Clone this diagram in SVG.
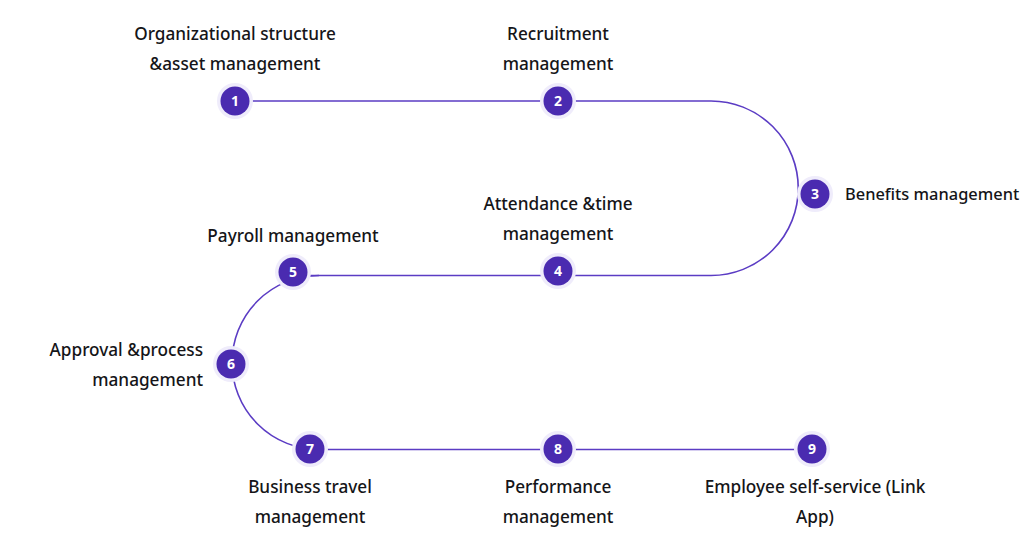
<svg xmlns="http://www.w3.org/2000/svg" width="1024" height="551" viewBox="0 0 1024 551">
<style>
.lbl{font-family:"Noto Sans","Liberation Sans",sans-serif;font-size:17.2px;font-weight:500;fill:#151518;}
.c{text-anchor:middle}
.r{text-anchor:end}
.halo{fill:#efecfb}
.dot{fill:#4a2bb0}
.num{font-family:"Noto Sans","Liberation Sans",sans-serif;font-size:14px;font-weight:bold;fill:#ffffff;text-anchor:middle}
.conn{fill:none;stroke:#5b3cc4;stroke-width:1.6}
</style>
<rect width="1024" height="551" fill="#ffffff"/>
<g id="connectors">
<path class="conn" d="M235 101 H711 A87 87 0 0 1 711 275.5 H293"/>
<path class="conn" d="M319 275.5 A87 87 0 0 0 319 449.5 H812"/>
</g>
<g id="node1"><circle class="halo" cx="235" cy="101" r="18"/><circle class="dot" cx="235" cy="101" r="14.5"/><text class="num" x="235" y="106">1</text>
<text class="lbl c" x="235" y="40">Organizational structure</text><text class="lbl c" x="235" y="70">&amp;asset management</text></g>
<g id="node2"><circle class="halo" cx="558" cy="101" r="18"/><circle class="dot" cx="558" cy="101" r="14.5"/><text class="num" x="558" y="106">2</text>
<text class="lbl c" x="558" y="40">Recruitment</text><text class="lbl c" x="558" y="70">management</text></g>
<g id="node3"><circle class="halo" cx="815" cy="194" r="18"/><circle class="dot" cx="815" cy="194" r="14.5"/><text class="num" x="815" y="199">3</text>
<text class="lbl" x="845" y="200" style="font-size:16.4px">Benefits management</text></g>
<g id="node4"><circle class="halo" cx="558" cy="271" r="18"/><circle class="dot" cx="558" cy="271" r="14.5"/><text class="num" x="558" y="276">4</text>
<text class="lbl c" x="558" y="210">Attendance &amp;time</text><text class="lbl c" x="558" y="240">management</text></g>
<g id="node5"><circle class="halo" cx="293" cy="272" r="18"/><circle class="dot" cx="293" cy="272" r="14.5"/><text class="num" x="293" y="277">5</text>
<text class="lbl c" x="293" y="242">Payroll management</text></g>
<g id="node6"><circle class="halo" cx="231" cy="364" r="18"/><circle class="dot" cx="231" cy="364" r="14.5"/><text class="num" x="231" y="369">6</text>
<text class="lbl r" x="203" y="356">Approval &amp;process</text><text class="lbl r" x="203" y="386">management</text></g>
<g id="node7"><circle class="halo" cx="310" cy="449" r="18"/><circle class="dot" cx="310" cy="449" r="14.5"/><text class="num" x="310" y="454">7</text>
<text class="lbl c" x="310" y="493">Business travel</text><text class="lbl c" x="310" y="523">management</text></g>
<g id="node8"><circle class="halo" cx="558" cy="449" r="18"/><circle class="dot" cx="558" cy="449" r="14.5"/><text class="num" x="558" y="454">8</text>
<text class="lbl c" x="558" y="493">Performance</text><text class="lbl c" x="558" y="523">management</text></g>
<g id="node9"><circle class="halo" cx="812" cy="449" r="18"/><circle class="dot" cx="812" cy="449" r="14.5"/><text class="num" x="812" y="454">9</text>
<text class="lbl c" x="815" y="493">Employee self-service (Link</text><text class="lbl c" x="815" y="523">App)</text></g>
</svg>
